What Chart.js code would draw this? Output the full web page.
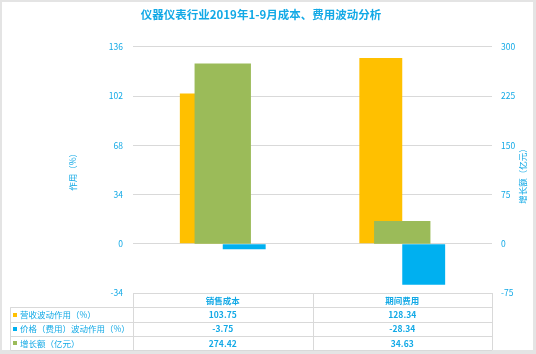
<!DOCTYPE html>
<html>
<head>
<meta charset="utf-8">
<script src="https://cdn.jsdelivr.net/npm/chart.js@4/dist/chart.umd.min.js"></script>
<style>
  html, body { margin: 0; padding: 0; background: #e4e4e4; }
  #wrap { width: 536px; height: 354px; }
</style>
</head>
<body>
<div id="wrap"><canvas id="chart" width="536" height="354"></canvas></div>
<script>
// data
const categories = ['销售成本', '期间费用'];
const seriesNames = ['营收波动作用（%）', '价格（费用）波动作用（%）', '增长额（亿元）'];
const revenueEffect = [103.75, 128.34];
const priceEffect = [-3.75, -28.34];
const growthAmount = [274.42, 34.63];
const leftTicks = [-34, 0, 34, 68, 102, 136];
const rightTicks = [-75, 0, 75, 150, 225, 300];

const BLUE_TEXT = '#12a9e6';
const GRID = '#d9d9d9';
const FONT = "'Noto Sans CJK SC', 'Noto Sans', sans-serif";
const colors = ['#ffc000', '#00b0f0', '#9bbb59'];

// frame + data table under the plot
const tablePlugin = {
    id: 'dataTable',
    beforeDraw(chart) {
        const c = chart.ctx;
        c.save();
        c.fillStyle = '#e4e4e4';
        c.fillRect(0, 0, chart.width, chart.height);
        c.fillStyle = '#ffffff';
        c.fillRect(2, 2, 531, 348);
        c.restore();
    },
    afterDraw(chart) {
        const c = chart.ctx;
        const x = chart.scales.x;
        const area = chart.chartArea;
        const rows = [revenueEffect, priceEffect, growthAmount];
        const top = area.bottom;
        const bottom = 350;
        const rowH = (bottom - top) / 4;
        const colEdges = [area.left];
        for (let i = 0; i < categories.length - 1; i++) {
            colEdges.push((x.getPixelForValue(i) + x.getPixelForValue(i + 1)) / 2);
        }
        colEdges.push(area.right);
        const legendLeft = 10.5;

        c.save();
        c.strokeStyle = GRID;
        c.lineWidth = 1;
        c.beginPath();
        // horizontal lines
        c.moveTo(area.left, Math.round(top) + 0.5);
        c.lineTo(area.right, Math.round(top) + 0.5);
        for (let r = 1; r <= 4; r++) {
            const y = Math.round(top + rowH * r) + 0.5;
            c.moveTo(legendLeft, y);
            c.lineTo(area.right, y);
        }
        // vertical lines
        colEdges.forEach(px => {
            c.moveTo(Math.round(px) + 0.5, top);
            c.lineTo(Math.round(px) + 0.5, bottom);
        });
        c.moveTo(legendLeft, top + rowH);
        c.lineTo(legendLeft, bottom);
        c.stroke();

        c.fillStyle = BLUE_TEXT;
        c.textBaseline = 'middle';
        c.textAlign = 'center';
        c.font = 'bold 8.5px ' + FONT;
        categories.forEach((cat, i) => {
            c.fillText(cat, x.getPixelForValue(i), top + rowH / 2 + 0.5);
        });
        rows.forEach((vals, r) => {
            const cy = top + rowH * (r + 1.5) + 0.5;
            c.textAlign = 'center';
            c.font = 'bold 8.5px ' + FONT;
            c.fillStyle = BLUE_TEXT;
            vals.forEach((v, i) => {
                c.fillText(v.toFixed(2), x.getPixelForValue(i), cy);
            });
            c.fillStyle = colors[r];
            c.fillRect(13, Math.round(cy) - 2, 4, 4);
            c.fillStyle = BLUE_TEXT;
            c.textAlign = 'left';
            c.font = '8.5px ' + FONT;
            c.fillText(seriesNames[r], 20, cy);
        });

        // right axis title, reading bottom to top
        c.translate(523, (area.top + area.bottom) / 2 + 4);
        c.rotate(-Math.PI / 2);
        c.textAlign = 'center';
        c.font = '8.5px ' + FONT;
        c.fillText('增长额（亿元）', 0, 0);
        c.restore();
    }
};

const ctx = document.getElementById('chart');
const chart = new Chart(ctx, {
    type: 'bar',
    data: {
        labels: categories,
        datasets: [
            {
                label: seriesNames[0],
                data: revenueEffect,
                backgroundColor: colors[0],
                yAxisID: 'y',
                barPercentage: 1,
                categoryPercentage: 0.478
            },
            {
                label: seriesNames[1],
                data: priceEffect,
                backgroundColor: colors[1],
                yAxisID: 'y',
                barPercentage: 1,
                categoryPercentage: 0.478
            },
            {
                label: seriesNames[2],
                data: growthAmount,
                backgroundColor: colors[2],
                yAxisID: 'y1',
                grouped: false,
                order: -1, // drawn over the orange bars
                barPercentage: 1,
                categoryPercentage: 0.314
            }
        ]
    },
    options: {
        responsive: false,
        animation: false,
        layout: { padding: { left: 0, right: 14, top: 0, bottom: 61 } },
        plugins: {
            legend: { display: false },
            tooltip: { enabled: false },
            title: {
                display: true,
                text: '仪器仪表行业2019年1-9月成本、费用波动分析',
                color: BLUE_TEXT,
                font: { family: FONT, size: 11.5, weight: 'bold' },
                padding: { top: 8, bottom: 25 }
            }
        },
        scales: {
            x: { display: false },
            y: {
                position: 'left',
                min: leftTicks[0],
                max: leftTicks[leftTicks.length - 1],
                afterBuildTicks: s => { s.ticks = leftTicks.map(v => ({ value: v })); },
                afterFit: s => { s.width = 133; },
                grid: { color: GRID, drawTicks: false },
                border: { display: false },
                ticks: { color: BLUE_TEXT, padding: 10, font: { family: FONT, size: 8.5 } },
                title: {
                    display: true,
                    text: '作用（%）',
                    color: BLUE_TEXT,
                    font: { family: FONT, size: 8.5 },
                    padding: { top: 68, bottom: 0 }
                }
            },
            y1: {
                position: 'right',
                min: rightTicks[0],
                max: rightTicks[rightTicks.length - 1],
                afterBuildTicks: s => { s.ticks = rightTicks.map(v => ({ value: v })); },
                afterFit: s => { s.width = 30; },
                grid: { display: false, drawTicks: false },
                border: { display: false },
                ticks: { color: BLUE_TEXT, padding: 9, font: { family: FONT, size: 8.5 } }
            }
        }
    },
    plugins: [tablePlugin]
});
</script>
</body>
</html>
